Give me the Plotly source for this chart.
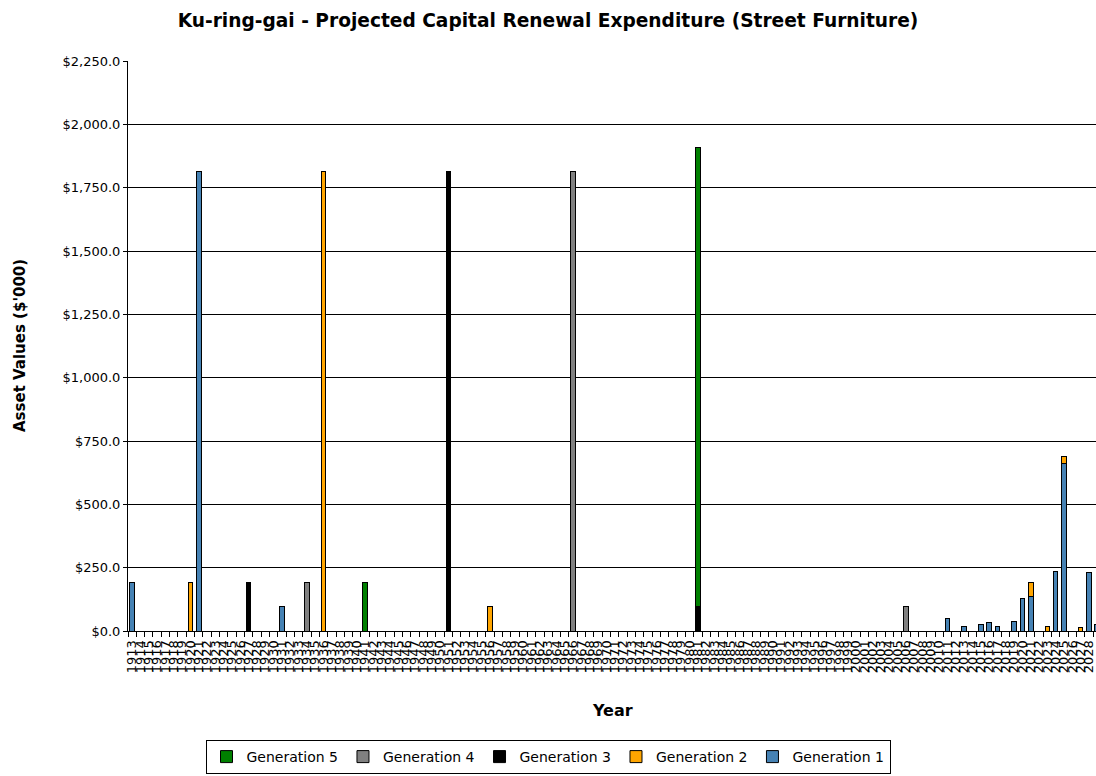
import plotly.graph_objects as go

# Category axis: one category per year
years = [str(y) for y in range(1913, 2031)]

# Values ($'000) per generation
gen1_years = [1913, 1921, 1931, 2011, 2013, 2015, 2016, 2017, 2019, 2020, 2021, 2024, 2025, 2028, 2029]
gen1_values = [190, 1815, 95, 51, 19, 26, 32, 19, 38, 127, 137, 235, 662, 232, 25]

gen2_years = [1920, 1936, 1956, 2021, 2023, 2025, 2027]
gen2_values = [190, 1815, 95, 53, 19, 28, 13]

gen3_years = [1927, 1951, 1981]
gen3_values = [190, 1815, 95]

gen4_years = [1934, 1966, 2006]
gen4_values = [190, 1815, 95]

gen5_years = [1941, 1981]
gen5_values = [190, 1815]

y_ticks = [0, 250, 500, 750, 1000, 1250, 1500, 1750, 2000, 2250]


def expand(yrs, vals):
    m = dict(zip([str(y) for y in yrs], vals))
    return [m.get(y, 0) for y in years]


series = [
    ("Generation 1", gen1_years, gen1_values, "#4682B4"),
    ("Generation 2", gen2_years, gen2_values, "#FFA500"),
    ("Generation 3", gen3_years, gen3_values, "#000000"),
    ("Generation 4", gen4_years, gen4_values, "#808080"),
    ("Generation 5", gen5_years, gen5_values, "#008000"),
]

FONT = "DejaVu Sans"
W, H = 1096, 776
ML, MT, MB = 128, 61, 145
PW, PH = W - ML, H - MT - MB

fig = go.Figure()
for name, yrs, vals, col in series:
    fig.add_trace(go.Bar(
        x=years, y=expand(yrs, vals), name=name,
        marker=dict(color=col, line=dict(color="#000000", width=1)),
    ))

fig.update_layout(
    width=W, height=H,
    barmode="stack", bargap=0.45,
    plot_bgcolor="white", paper_bgcolor="white",
    margin=dict(l=ML, r=0, t=MT, b=MB, autoexpand=False),
    font=dict(family=FONT, color="black", size=12),
    title=dict(
        text="<b>Ku-ring-gai - Projected Capital Renewal Expenditure (Street Furniture)</b>",
        xref="container", x=548 / W, xanchor="center",
        yref="container", y=1 - 20 / H, yanchor="middle",
        font=dict(family=FONT, size=18.6, color="black"),
    ),
    legend=dict(
        orientation="h", traceorder="reversed",
        xref="container", x=548 / W, xanchor="center",
        yref="container", y=(H - 757) / H, yanchor="middle",
        bordercolor="black", borderwidth=1, bgcolor="white",
        font=dict(family=FONT, size=14),
        itemwidth=30,
    ),
    showlegend=True,
    annotations=[
        dict(text="<b>Asset Values ($'000)</b>", xref="paper", yref="paper",
             x=(20 - ML) / PW, y=0.5, xanchor="center", yanchor="middle",
             textangle=-90, showarrow=False, font=dict(family=FONT, size=15)),
        dict(text="<b>Year</b>", xref="paper", yref="paper",
             x=(612 - ML) / PW, y=-(710 - (MT + PH)) / PH, xanchor="center", yanchor="middle",
             showarrow=False, font=dict(family=FONT, size=16)),
    ],
)

fig.update_xaxes(
    type="category",
    range=[-0.5, -0.5 + PW / 8.32],
    tickmode="linear", dtick=1,
    tickangle=-90,
    tickfont=dict(family=FONT, size=13),
    ticks="outside", ticklen=5, tickcolor="black",
    tickson="boundaries", ticklabelstandoff=3,
    showline=True, linecolor="black", linewidth=1,
    showgrid=False, automargin=False,
)

fig.update_yaxes(
    range=[0, 2250],
    tickmode="array", tickvals=y_ticks,
    tickformat="$,.1f",
    tickfont=dict(family=FONT, size=13),
    ticks="outside", ticklen=4, tickcolor="black",
    showline=True, linecolor="black", linewidth=1,
    showgrid=True, gridcolor="black", gridwidth=1,
    zeroline=False, automargin=False,
)

fig.write_html(
    "out.html",
    config={"displayModeBar": False},
    post_script="document.body.style.margin='0';document.body.style.overflow='hidden';",
)
